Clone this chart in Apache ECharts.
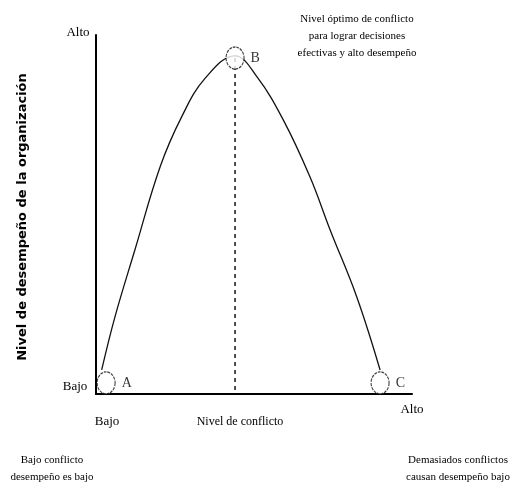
<!DOCTYPE html>
<html>
<head>
<meta charset="utf-8">
<script src="https://cdn.jsdelivr.net/npm/echarts@6/dist/echarts.min.js"></script>
<style>html,body{margin:0;padding:0;background:#fff}#c{width:522px;height:487px}</style>
</head>
<body>
<div id="c"></div>
<script>
// Curve: conflict level (x) vs organisational performance (y), 0..100 scale
const curveX = [1.8, 6.0, 12.3, 20.3, 27.1, 34.5, 44.0, 50.9, 59.3, 67.7, 74.1, 82.5, 89.9];
const curveY = [6.7, 21.5, 40.1, 63.3, 77.2, 87.9, 94.2, 88.4, 76.3, 60.5, 45.7, 27.1, 6.7];
// Marked points A, B, C
const pointNames = ['A', 'B', 'C'];
const pointX = [3.2, 44.0, 89.9];
const pointY = [3.1, 93.6, 3.1];
// Optimum drop line
const optimumX = 44.0;
const optimumTopY = 93.6;
// Tick labels
const xTickLabels = ['Bajo', 'Alto'];
const yTickLabels = ['Bajo', 'Alto'];
const xAxisTitle = 'Nivel de conflicto';
const yAxisTitle = 'Nivel de desempeño de la organización';
const noteTop = 'Nivel óptimo de conflicto\npara lograr decisiones\nefectivas y alto desempeño';
const noteLeft = 'Bajo conflicto\ndesempeño es bajo';
const noteRight = 'Demasiados conflictos\ncausan desempeño bajo';

const serif = '"Liberation Serif", "DejaVu Serif", serif';
const chart = echarts.init(document.getElementById('c'));
const txt = (x, y, text, size, align, extra) => Object.assign({
  type: 'text', x: x, y: y,
  style: { text: text, font: size + 'px ' + serif, fill: '#000', align: align || 'center', verticalAlign: 'middle', lineHeight: 17 }
}, extra || {});

chart.setOption({
  animation: false,
  backgroundColor: '#fff',
  grid: { left: 96, right: 110, top: 35, bottom: 93 },
  xAxis: {
    type: 'value', min: 0, max: 100,
    axisLine: { lineStyle: { color: '#000', width: 2 } },
    axisTick: { show: false }, axisLabel: { show: false }, splitLine: { show: false }
  },
  yAxis: {
    type: 'value', min: 0, max: 100,
    axisLine: { show: true, lineStyle: { color: '#000', width: 2 } },
    axisTick: { show: false }, axisLabel: { show: false }, splitLine: { show: false }
  },
  series: [
    {
      type: 'line', smooth: 0.4, symbol: 'none', z: 2,
      lineStyle: { color: '#111', width: 1.3 },
      data: curveX.map((x, i) => [x, curveY[i]])
    },
    {
      type: 'line', symbol: 'none', z: 2,
      lineStyle: { color: '#111', width: 1.5, type: [4, 4] },
      data: [[optimumX, optimumTopY], [optimumX, 0]]
    },
    {
      type: 'scatter', z: 5,
      symbol: 'circle', symbolSize: [18, 22],
      itemStyle: { color: '#fff', borderColor: '#111', borderWidth: 1.2, borderType: [3, 1] },
      label: {
        show: true, position: 'right', distance: 6,
        formatter: p => p.name,
        color: '#000', fontSize: 14, fontFamily: serif
      },
      data: pointNames.map((n, i) => ({ name: n, value: [pointX[i], pointY[i]] }))
    }
  ],
  graphic: [
    txt(78, 33, yTickLabels[1], 13),
    txt(75, 387, yTickLabels[0], 13),
    txt(107, 422, xTickLabels[0], 13),
    txt(412, 410, xTickLabels[1], 13),
    txt(240, 422, xAxisTitle, 12),
    {
      type: 'text', x: 23, y: 217, rotation: Math.PI / 2,
      style: { text: yAxisTitle, font: 'bold 13px "DejaVu Sans", sans-serif', fill: '#000', align: 'center', verticalAlign: 'middle' }
    },
    txt(357, 36, noteTop, 11),
    txt(52, 469, noteLeft, 11),
    txt(458, 469, noteRight, 11)
  ]
});
</script>
</body>
</html>
